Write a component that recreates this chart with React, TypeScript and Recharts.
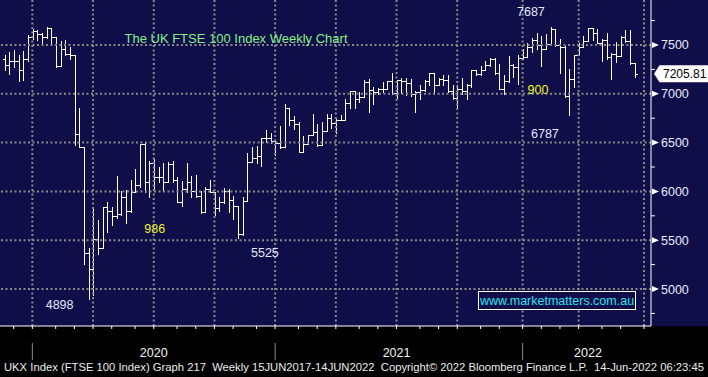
import React from 'react';
import { ComposedChart, Bar, XAxis, YAxis, ReferenceLine } from 'recharts';

// Weekly OHLC of the FTSE 100
const opens = [
  7361, 7300, 7333, 7340, 7242, 7354, 7582, 7643, 7616, 7582,
  7673, 7582, 7286, 7463, 7412, 7401, 6589, 6460, 5372, 5202,
  5514, 5423, 5840, 5796, 5749, 5769, 5939, 5796, 5990, 6065,
  6484, 6099, 6286, 6150, 6150, 6092, 6279, 6116, 5895, 6024,
  6092, 6000, 5956, 5786, 6024, 5997, 5830, 5895, 6007, 5912,
  5854, 5565, 5905, 6306, 6340, 6364, 6544, 6548, 6517, 6493,
  6459, 6857, 6731, 6687, 6405, 6483, 6575, 6609, 6473, 6619,
  6755, 6697, 6731, 6731, 6901, 7027, 6942, 6969, 7119, 7044,
  7017, 7051, 7051, 7129, 7011, 7137, 7127, 7114, 7001, 7018,
  7035, 7127, 7216, 7086, 7148, 7137, 7025, 6956, 7052, 7025,
  7093, 7240, 7206, 7240, 7298, 7353, 7216, 7045, 7127, 7291,
  7274, 7370, 7376, 7479, 7549, 7497, 7462, 7514, 7660, 7503,
  7479, 6976, 7150, 7399, 7479, 7538, 7670, 7618, 7524, 7549,
  7375, 7410, 7385, 7583, 7538, 7316,
];
const highs = [
  7401, 7430, 7446, 7400, 7435, 7599, 7667, 7650, 7626, 7689,
  7673, 7582, 7537, 7548, 7480, 7401, 6851, 6460, 5423, 5820,
  5711, 5840, 5891, 5837, 6160, 6001, 6018, 6115, 6228, 6490,
  6500, 6313, 6330, 6252, 6296, 6306, 6313, 6150, 6109, 6296,
  6160, 6170, 6007, 6048, 6116, 5997, 5946, 6034, 6024, 5956,
  5854, 5946, 6398, 6456, 6466, 6544, 6629, 6595, 6517, 6670,
  6891, 6857, 6772, 6711, 6568, 6575, 6789, 6687, 6711, 6789,
  6789, 6738, 6779, 6942, 7027, 7027, 7017, 7139, 7153, 7071,
  7061, 7119, 7129, 7214, 7137, 7161, 7161, 7148, 7025, 7093,
  7137, 7216, 7216, 7161, 7189, 7196, 7093, 7093, 7161, 7103,
  7240, 7240, 7281, 7332, 7367, 7367, 7308, 7196, 7384, 7308,
  7401, 7460, 7524, 7573, 7618, 7594, 7608, 7687, 7660, 7566,
  7490, 7254, 7399, 7524, 7594, 7670, 7670, 7663, 7566, 7618,
  7420, 7531, 7594, 7653, 7653, 7316,
];
const lows = [
  7242, 7200, 7276, 7133, 7146, 7340, 7565, 7548, 7514, 7575,
  7503, 7276, 7280, 7401, 7361, 6477, 6460, 5253, 4898, 4935,
  5361, 5423, 5586, 5653, 5728, 5762, 5677, 5790, 5990, 6040,
  5990, 5946, 6007, 6092, 6000, 6092, 6092, 5888, 5854, 5990,
  5946, 5946, 5776, 5786, 5997, 5762, 5803, 5878, 5786, 5718,
  5525, 5558, 5898, 6306, 6296, 6262, 6507, 6493, 6371, 6449,
  6459, 6677, 6643, 6405, 6405, 6483, 6575, 6466, 6473, 6619,
  6653, 6595, 6731, 6731, 6857, 6857, 6915, 6969, 6813, 6891,
  7003, 7017, 7051, 7003, 6956, 7011, 6990, 6977, 6813, 6943,
  7025, 7093, 7001, 7086, 7093, 7018, 6949, 6840, 7001, 6949,
  7069, 7189, 7196, 7240, 7288, 7206, 7045, 7001, 7120, 7172,
  7100, 7360, 7375, 7427, 7462, 7281, 7462, 7514, 7490, 7212,
  6969, 6787, 7073, 7399, 7479, 7538, 7549, 7524, 7340, 7358,
  7156, 7323, 7385, 7531, 7306, 7177,
];
const closes = [
  7300, 7333, 7340, 7242, 7354, 7582, 7643, 7616, 7582, 7673,
  7582, 7286, 7463, 7412, 7401, 6589, 6460, 5372, 5202, 5514,
  5423, 5840, 5796, 5749, 5769, 5939, 5796, 5990, 6065, 6484,
  6099, 6286, 6150, 6150, 6092, 6279, 6116, 5895, 6024, 6092,
  6000, 5956, 5786, 6024, 5997, 5830, 5895, 6007, 5912, 5854,
  5565, 5905, 6306, 6340, 6364, 6544, 6548, 6517, 6493, 6459,
  6857, 6731, 6687, 6405, 6483, 6575, 6609, 6473, 6619, 6755,
  6697, 6731, 6731, 6901, 7027, 6942, 6969, 7119, 7044, 7017,
  7051, 7051, 7129, 7011, 7137, 7127, 7114, 7001, 7018, 7035,
  7127, 7216, 7086, 7148, 7137, 7025, 6956, 7052, 7025, 7093,
  7240, 7206, 7240, 7298, 7353, 7216, 7045, 7127, 7291, 7274,
  7370, 7376, 7479, 7549, 7497, 7462, 7514, 7660, 7503, 7479,
  6976, 7150, 7399, 7479, 7538, 7670, 7618, 7524, 7549, 7375,
  7410, 7385, 7583, 7538, 7316, 7205.81,
];

const LAST_PRICE = 7205.81;
const FIRST_WEEK = Date.UTC(2019, 10, 11);
const EXTRA_WEEKS = 3; // empty slots after the last bar (axis runs on to July 2022)
const weeks: string[] = Array.from({ length: closes.length + EXTRA_WEEKS }, (_, i) =>
  new Date(FIRST_WEEK + i * 7 * 86400000).toISOString().slice(0, 10)
);

// tick marks / grid positions (week indices)
const monthTickIdx = [2, 6, 11, 15, 19, 23, 28, 32, 37, 41, 45, 49, 54, 58, 63, 67, 71, 76, 80, 84, 89, 93, 97, 102, 106, 111, 115, 119, 123, 128, 132, 137];
const quarterIdx = [6, 19, 32, 45, 58, 71, 84, 97, 111, 123, 137];
const yearStartIdx = [6, 58, 111];
const yearLabels: { idx: number; label: string }[] = [
  { idx: 32, label: '2020' },
  { idx: 84, label: '2021' },
  { idx: 125, label: '2022' },
];
const majorTicks = [5000, 5500, 6000, 6500, 7000, 7500];
const minorTicks = [4750, 5250, 5750, 6250, 6750, 7250, 7750];

const data = weeks.map((w, i) =>
  i < closes.length
    ? { week: w, range: [lows[i], highs[i]], open: opens[i], high: highs[i], low: lows[i], close: closes[i] }
    : { week: w, range: null, open: null, high: null, low: null, close: null }
);

const NAVY = '#0f0e48';
const GRID = '#8a8a8a';
const FONT = '"Liberation Sans", Arial, sans-serif';

const OhlcShape = (props: any) => {
  const { x, y, width, height, payload } = props;
  if (!payload || payload.high == null || x == null) return null;
  const { open, high, low, close } = payload;
  const top = Math.min(y, y + height);
  const bottom = Math.max(y, y + height);
  const span = high - low;
  const yAt = (v: number) => (span === 0 ? top : top + ((high - v) / span) * (bottom - top));
  const cx = Math.round(x + width / 2) + 0.5;
  const half = width / 2;
  const yo = Math.round(yAt(open)) + 0.5;
  const yc = Math.round(yAt(close)) + 0.5;
  return (
    <g stroke="#ffffff" strokeWidth={1} shapeRendering="crispEdges">
      <line x1={cx} x2={cx} y1={Math.round(top)} y2={Math.round(bottom) + 1} />
      <line x1={cx - half} x2={cx} y1={yo} y2={yo} />
      <line x1={cx} x2={cx + half} y1={yc} y2={yc} />
    </g>
  );
};

const YTick = (props: any) => {
  const { x, y, payload } = props;
  const v = payload.value;
  if (v === LAST_PRICE) {
    return (
      <g>
        <polygon
          points={`${x + 3},${y} ${x + 8.5},${y - 8.5} ${x + 60},${y - 8.5} ${x + 60},${y + 8.5} ${x + 8.5},${y + 8.5}`}
          fill="#ffffff"
        />
        <text x={x + 12} y={y} dy="0.36em" fill="#000000" fontSize={12} fontFamily={FONT}>
          {LAST_PRICE.toFixed(2)}
        </text>
      </g>
    );
  }
  if (majorTicks.includes(v)) {
    return (
      <g>
        <polygon points={`${x + 1},${y - 3} ${x + 1},${y + 3} ${x + 8},${y}`} fill="#ffffff" />
        <text x={x + 10} y={y} dy="0.36em" fill="#e4eaff" fontSize={12.5} fontFamily={FONT}>
          {v}
        </text>
      </g>
    );
  }
  return <line x1={x} x2={x + 4} y1={y} y2={y} stroke="#ffffff" strokeWidth={1} />;
};

const YearTick = (props: any) => {
  const { x, y, payload } = props;
  const idx = weeks.indexOf(payload.value);
  if (yearStartIdx.includes(idx)) {
    return <line x1={x} x2={x} y1={y} y2={y + 17} stroke="#8a8a8a" strokeWidth={1} />;
  }
  const yl = yearLabels.find((d) => d.idx === idx);
  if (!yl) return <g />;
  return (
    <text x={x} y={y + 14} textAnchor="middle" fill="#f2f2f2" fontSize={12.5} fontFamily={FONT}>
      {yl.label}
    </text>
  );
};

const EmptyTick = () => <g />;

const annotations = [
  { text: '7687', x: 517, y: 16, color: '#e2e8ff' },
  { text: '900', x: 527.5, y: 94, color: '#f4f42a' },
  { text: '6787', x: 531, y: 137.5, color: '#e2e8ff' },
  { text: '986', x: 144.3, y: 233, color: '#f4f42a' },
  { text: '5525', x: 251, y: 256.5, color: '#e2e8ff' },
  { text: '4898', x: 45.7, y: 308.5, color: '#e2e8ff' },
];

const TITLE = 'The UK FTSE 100 Index Weekly Chart';
const WATERMARK = 'www.marketmatters.com.au';
const FOOTER =
  'UKX Index (FTSE 100 Index) Graph 217  Weekly 15JUN2017-14JUN2022  Copyright\u00A9 2022 Bloomberg Finance L.P.  14-Jun-2022 06:23:45';

export default function App() {
  return (
    <div
      style={{
        position: 'absolute',
        left: 0,
        top: 0,
        width: 708,
        height: 377,
        background: `linear-gradient(to bottom, ${NAVY} 0px, ${NAVY} 326px, #000000 326px, #000000 377px)`,
      }}
    >
      <ComposedChart
        width={708}
        height={377}
        data={data}
        margin={{ top: 0, right: 0, bottom: 0, left: 0 }}
        barCategoryGap={0}
        barGap={0}
      >
        <XAxis
          xAxisId="m"
          dataKey="week"
          type="category"
          ticks={monthTickIdx.map((i) => weeks[i])}
          interval={0}
          height={17}
          padding={{ left: 2, right: 0 }}
          tickSize={3}
          tickLine={{ stroke: '#ffffff', strokeWidth: 1 }}
          axisLine={{ stroke: '#ffffff', strokeWidth: 1 }}
          tick={<EmptyTick />}
        />
        <XAxis
          xAxisId="y"
          dataKey="week"
          type="category"
          ticks={[...yearStartIdx, ...yearLabels.map((d) => d.idx)].sort((a, b) => a - b).map((i) => weeks[i])}
          interval={0}
          height={34}
          padding={{ left: 2, right: 0 }}
          tickSize={0}
          tickMargin={0}
          tickLine={false}
          axisLine={false}
          tick={<YearTick />}
        />
        <YAxis
          orientation="right"
          type="number"
          width={57}
          domain={[4621, 7961]}
          allowDataOverflow
          ticks={[...minorTicks, ...majorTicks, LAST_PRICE]}
          interval={0}
          tickSize={0}
          tickMargin={0}
          tickLine={false}
          axisLine={{ stroke: '#ffffff', strokeWidth: 1 }}
          tick={<YTick />}
        />
        {majorTicks.map((v) => (
          <ReferenceLine
            key={'h' + v}
            xAxisId="m"
            y={v}
            stroke={GRID}
            strokeWidth={2}
            strokeDasharray="2 2.5"
          />
        ))}
        {quarterIdx.map((i) => (
          <ReferenceLine
            key={'v' + i}
            xAxisId="m"
            x={weeks[i]}
            stroke={GRID}
            strokeWidth={2}
            strokeDasharray="2 2.5"
          />
        ))}
        <Bar xAxisId="m" dataKey="range" shape={<OhlcShape />} isAnimationActive={false} />
      </ComposedChart>
      <svg
        width={708}
        height={377}
        style={{ position: 'absolute', left: 0, top: 0, pointerEvents: 'none' }}
      >
        <text x={124.5} y={43} fill="#86f088" fontSize={13} fontFamily={FONT}>
          {TITLE}
        </text>
        {annotations.map((a) => (
          <text key={a.text} x={a.x} y={a.y} fill={a.color} fontSize={12.5} fontFamily={FONT}>
            {a.text}
          </text>
        ))}
        <rect x={478.5} y={291.5} width={157} height={18} fill={NAVY} stroke="#ffffff" strokeWidth={1} />
        <text x={557} y={305} textAnchor="middle" fill="#2fe0f0" fontSize={12.5} fontFamily={FONT}>
          {WATERMARK}
        </text>
        <text
          x={4}
          y={371}
          fill="#ececec"
          fontSize={11}
          fontFamily={FONT}
          textLength={700}
          lengthAdjust="spacingAndGlyphs"
          style={{ whiteSpace: 'pre' }}
        >
          {FOOTER}
        </text>
      </svg>
    </div>
  );
}
